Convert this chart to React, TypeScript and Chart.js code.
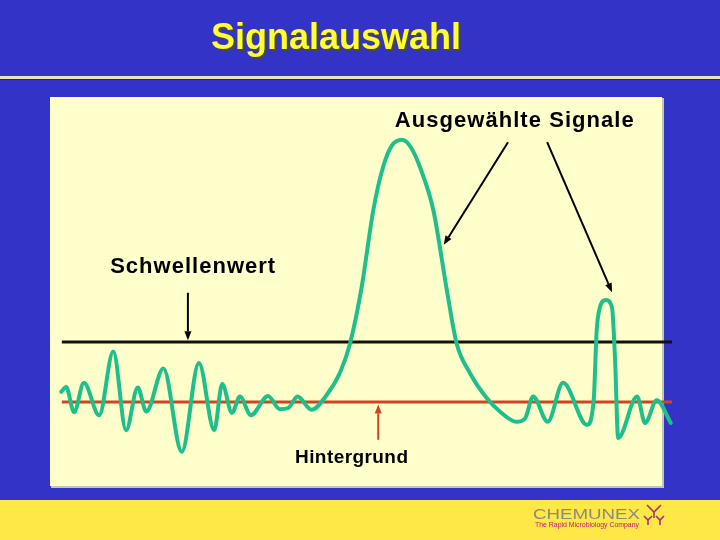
import React, { useEffect, useRef } from "react";
import { Chart, registerables } from "chart.js";

Chart.register(...registerables);

// Signal trace (time units 0..100, amplitude: 0 = background, 1 = threshold)
const signalX = [0.2, 1.0, 2.3, 3.9, 6.4, 8.7, 10.8, 12.7, 14.1, 16.9, 19.9, 22.7, 25.2, 26.5, 28.1, 29.4, 31.2, 34.0, 35.9, 37.3, 38.8, 41.1, 43.6, 45.8, 47.4, 49.3, 51.2, 52.8, 54.2, 55.9, 57.3, 58.8, 61.0, 63.2, 64.8, 67.0, 69.7, 72.0, 74.6, 76.0, 77.3, 79.7, 82.2, 86.1, 87.2, 87.7, 88.2, 89.2, 90.2, 90.7, 91.2, 94.3, 95.6, 97.5, 99.8];
const signalY = [0.17, 0.25, -0.17, 0.32, -0.22, 0.84, -0.47, 0.24, -0.16, 0.56, -0.83, 0.65, -0.47, 0.3, -0.18, 0.09, -0.22, 0.1, -0.12, -0.1, 0.09, -0.13, 0.12, 0.5, 0.98, 1.92, 3.2, 3.92, 4.27, 4.37, 4.25, 3.92, 3.2, 1.87, 0.98, 0.48, 0.07, -0.17, -0.33, -0.27, 0.09, -0.33, 0.32, -0.38, 0.03, 1.2, 1.57, 1.7, 1.57, 0.7, -0.6, 0.09, -0.35, 0.03, -0.35];

const thresholdLevel = 1;
const backgroundLevel = 0;
const levelLineX = [0.3, 100];

const titleText = "Signalauswahl";
const labelSelected = "Ausgewählte Signale";
const labelThreshold = "Schwellenwert";
const labelBackground = "Hintergrund";
const logoName = "CHEMUNEX";
const logoTagline = "The Rapid Microbiology Company";

// Annotation anchors in data units
const textAnchors = [
  { text: labelSelected, x: 54.7, y: 4.58, width: 239, size: 22 },
  { text: labelThreshold, x: 8.2, y: 2.15, width: 165, size: 22 },
  { text: labelBackground, x: 38.4, y: -1.02, width: 113, size: 19 },
];
const arrows = [
  { x1: 73.2, y1: 4.33, x2: 62.7, y2: 2.62, color: "#000000" },
  { x1: 79.6, y1: 4.33, x2: 90.2, y2: 1.83, color: "#000000" },
  { x1: 20.9, y1: 1.82, x2: 20.9, y2: 1.03, color: "#000000" },
  { x1: 52.0, y1: -0.63, x2: 52.0, y2: -0.04, color: "#d04420" },
];

const slidePlugin = {
  id: "slide",
  beforeDraw(chart: any) {
    const ctx = chart.ctx as CanvasRenderingContext2D;
    const W = chart.width;
    const H = chart.height;
    ctx.save();
    ctx.fillStyle = "#3333c8";
    ctx.fillRect(0, 0, W, H);
    // title rule
    ctx.fillStyle = "#e9e6b9";
    ctx.fillRect(0, 76, W, 3);
    ctx.fillStyle = "#26265e";
    ctx.fillRect(0, 79, W, 1);
    // panel
    ctx.fillStyle = "#c8c6a8";
    ctx.fillRect(51, 98, 613, 390);
    ctx.fillStyle = "#ffffcc";
    ctx.fillRect(50, 97, 612, 389);
    // bottom band
    ctx.fillStyle = "#fde847";
    ctx.fillRect(0, 500, W, H - 500);
    // title
    ctx.font = "bold 36px 'Liberation Sans', Arial, sans-serif";
    ctx.textBaseline = "alphabetic";
    ctx.textAlign = "left";
    ctx.fillStyle = "#4a4a3a";
    ctx.fillText(titleText, 213, 51);
    ctx.fillStyle = "#ffff33";
    ctx.fillText(titleText, 211, 49);
    // logo
    ctx.fillStyle = "#8a8a80";
    ctx.font = "14px 'Liberation Sans', Arial, sans-serif";
    let w = ctx.measureText(logoName).width;
    ctx.save();
    ctx.translate(533, 519);
    ctx.scale(107 / w, 1);
    ctx.fillText(logoName, 0, 0);
    ctx.restore();
    ctx.fillStyle = "#d0147a";
    ctx.font = "8px 'Liberation Sans', Arial, sans-serif";
    w = ctx.measureText(logoTagline).width;
    ctx.save();
    ctx.translate(535, 527);
    ctx.scale(104 / w, 1);
    ctx.fillText(logoTagline, 0, 0);
    ctx.restore();
    // antibody icon
    ctx.strokeStyle = "#b0306a";
    ctx.lineWidth = 1.6;
    const ys = [
      [654, 505, 7, 6],
      [648, 516, 4, 5],
      [660, 516, 4, 5],
    ];
    ys.forEach(([cx, top, arm, stem]) => {
      ctx.beginPath();
      ctx.moveTo(cx - arm, top);
      ctx.lineTo(cx, top + arm);
      ctx.lineTo(cx + arm, top);
      ctx.moveTo(cx, top + arm);
      ctx.lineTo(cx, top + arm + stem);
      ctx.stroke();
    });
    ctx.restore();
  },
  afterDraw(chart: any) {
    const ctx = chart.ctx as CanvasRenderingContext2D;
    const xs = chart.scales.x;
    const yScale = chart.scales.y;
    ctx.save();
    ctx.fillStyle = "#000000";
    ctx.textAlign = "left";
    ctx.textBaseline = "alphabetic";
    textAnchors.forEach((t) => {
      ctx.font = `bold ${t.size}px 'Liberation Sans', Arial, sans-serif`;
      (ctx as any).letterSpacing = "0px";
      const base = ctx.measureText(t.text).width;
      const sp = (t.width - base) / (t.text.length - 1);
      (ctx as any).letterSpacing = `${sp}px`;
      ctx.fillText(t.text, xs.getPixelForValue(t.x), yScale.getPixelForValue(t.y));
    });
    (ctx as any).letterSpacing = "0px";
    arrows.forEach((a) => {
      const x1 = xs.getPixelForValue(a.x1);
      const y1 = yScale.getPixelForValue(a.y1);
      const x2 = xs.getPixelForValue(a.x2);
      const y2 = yScale.getPixelForValue(a.y2);
      const ang = Math.atan2(y2 - y1, x2 - x1);
      const len = 9;
      const hw = 3.5;
      const bx = x2 - len * Math.cos(ang);
      const by = y2 - len * Math.sin(ang);
      ctx.strokeStyle = a.color;
      ctx.fillStyle = a.color;
      ctx.lineWidth = 2;
      ctx.beginPath();
      ctx.moveTo(x1, y1);
      ctx.lineTo(bx, by);
      ctx.stroke();
      ctx.beginPath();
      ctx.moveTo(x2, y2);
      ctx.lineTo(bx + hw * Math.sin(ang), by - hw * Math.cos(ang));
      ctx.lineTo(bx - hw * Math.sin(ang), by + hw * Math.cos(ang));
      ctx.closePath();
      ctx.fill();
    });
    ctx.restore();
  },
};

export default function App() {
  const ref = useRef<HTMLCanvasElement | null>(null);
  useEffect(() => {
    if (!ref.current) return;
    const chart = new Chart(ref.current, {
      type: "line",
      data: {
        datasets: [
          {
            label: "Signal",
            data: signalX.map((x, i) => ({ x, y: signalY[i] })),
            borderColor: "#1fbf8c",
            borderWidth: 4,
            pointRadius: 0,
            tension: 0.4,
            cubicInterpolationMode: "monotone",
            fill: false,
            clip: false,
            order: 0,
            borderCapStyle: "round",
            borderJoinStyle: "round",
          },
          {
            label: "Schwellenwert",
            data: levelLineX.map((x) => ({ x, y: thresholdLevel })),
            borderColor: "#111111",
            borderWidth: 3,
            pointRadius: 0,
            clip: false,
            order: 1,
          },
          {
            label: "Hintergrund",
            data: levelLineX.map((x) => ({ x, y: backgroundLevel })),
            borderColor: "#d04420",
            borderWidth: 3,
            pointRadius: 0,
            clip: false,
            order: 1,
          },
        ],
      },
      options: {
        animation: false,
        responsive: false,
        layout: { padding: { left: 60, right: 48, top: 132, bottom: 48 } },
        plugins: { legend: { display: false }, tooltip: { enabled: false } },
        scales: {
          x: { type: "linear", min: 0, max: 100, display: false },
          y: { type: "linear", min: -1.5, max: 4.5, display: false },
        },
      },
      plugins: [slidePlugin],
    } as any);
    return () => chart.destroy();
  }, []);
  return (
    <div style={{ position: "fixed", left: 0, top: 0, width: 720, height: 540 }}>
      <canvas ref={ref} width={720} height={540} style={{ display: "block" }} />
    </div>
  );
}
